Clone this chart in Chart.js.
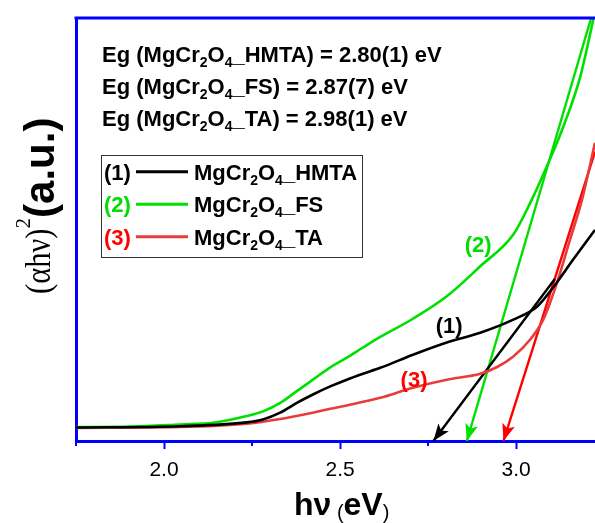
<!DOCTYPE html>
<html lang="en">
<head>
<meta charset="UTF-8">
<title>Tauc plot MgCr2O4</title>
<style>
  body { margin: 0; background: #ffffff; }
  #wrap { width: 595px; height: 523px; }
</style>
<script src="https://cdn.jsdelivr.net/npm/chart.js"></script>
</head>
<body>
<div id="wrap"><canvas id="tauc" width="595" height="523"></canvas></div>
<script>
// photon energy (eV) and (ahv)^2 in arbitrary units
const hmtaE = [1.75, 2.045, 2.235, 2.281, 2.330, 2.377, 2.423, 2.472, 2.519, 2.565, 2.614, 2.707, 2.803, 2.898, 2.992, 3.060, 3.105, 3.162, 3.224];
const hmtaA = [3.2, 3.5, 4.4, 5.1, 6.7, 9.0, 11.0, 12.9, 14.5, 15.9, 17.3, 20.4, 23.3, 25.6, 28.7, 31.8, 36.3, 42.9, 49.9];

const fsE = [1.75, 1.903, 2.045, 2.139, 2.235, 2.281, 2.330, 2.377, 2.423, 2.472, 2.519, 2.565, 2.614, 2.707, 2.803, 2.898, 2.992, 3.040, 3.087, 3.134, 3.182, 3.224];
const fsA = [3.3, 3.4, 3.9, 4.3, 5.9, 7.0, 9.0, 11.8, 14.5, 17.4, 19.7, 22.1, 24.6, 28.9, 34.2, 41.3, 48.8, 56.3, 64.9, 74.3, 86.1, 101.5];

const taE = [1.75, 2.045, 2.235, 2.330, 2.423, 2.472, 2.519, 2.614, 2.707, 2.803, 2.898, 2.946, 2.992, 3.040, 3.077, 3.116, 3.153, 3.187, 3.224];
const taA = [3.1, 3.3, 4.1, 5.2, 6.7, 7.6, 8.4, 10.2, 12.6, 14.5, 15.9, 17.5, 20.0, 24.0, 28.7, 37.4, 47.6, 57.0, 70.5];

// linear extrapolations (arrow tip first)
const hmtaFitE = [2.765, 3.110];
const hmtaFitA = [0, 38.3];
const fsFitE = [2.860, 3.213];
const fsFitA = [0, 100];
const taFitE = [2.964, 3.224];
const taFitA = [0, 68.4];

const xMajor = [2.0, 2.5, 3.0];
const xMinor = [1.75, 2.25, 2.75];

const bandGaps = ['2.80(1)', '2.87(7)', '2.98(1)'];
const samples = ['HMTA', 'FS', 'TA'];
const curveTags = ['(1)', '(2)', '(3)'];
const tagE = [2.810, 2.892, 2.710];
const tagA = [27.0, 46.2, 14.3];

const BLUE = '#0000ff';
const BLACK = '#000000';
const GREEN = '#00e000';
const RED = '#e83c3c';
const RED2 = '#ff0000';
const SANS = '"Liberation Sans", Arial, sans-serif';
const SERIF = '"Liberation Serif", "Times New Roman", serif';

const pts = (xs, ys) => xs.map((x, i) => ({ x: x, y: ys[i] }));

// draws text pieces one after another; sx squeezes a piece along the text direction
function drawRuns(ctx, runs, x, y) {
  for (const r of runs) {
    ctx.font = r.font;
    ctx.fillStyle = r.color || BLACK;
    const sx = r.sx || 1;
    ctx.save();
    ctx.translate(x, y + (r.dy || 0));
    ctx.scale(sx, 1);
    ctx.fillText(r.t, 0, 0);
    ctx.restore();
    x += ctx.measureText(r.t).width * sx;
  }
  return x;
}

function formulaRuns(name, size) {
  const big = 'bold ' + size + 'px ' + SANS;
  const small = 'bold ' + Math.round(size * 0.65) + 'px ' + SANS;
  return [
    { t: 'MgCr', font: big },
    { t: '2', font: small, dy: 5 },
    { t: 'O', font: big },
    { t: '4', font: small, dy: 5 },
    { t: '_' + name, font: big }
  ];
}

const lineColors = [BLACK, GREEN, RED];
const tagColors = [BLACK, '#00dd00', RED2];
const TXT = 22;

const decor = {
  id: 'decor',
  afterDatasetsDraw(chart) {
    const ctx = chart.ctx;
    const xs = chart.scales.x, ys = chart.scales.y;
    // arrow heads on the extrapolation lines
    [3, 4, 5].forEach((di, k) => {
      const m = chart.getDatasetMeta(di).data;
      const tip = m[0], from = m[1];
      const a = Math.atan2(tip.y - from.y, tip.x - from.x);
      ctx.save();
      ctx.translate(tip.x, tip.y);
      ctx.rotate(a);
      ctx.fillStyle = [BLACK, GREEN, RED2][k];
      ctx.beginPath();
      ctx.moveTo(0, 0);
      ctx.lineTo(-17, -6.5);
      ctx.lineTo(-13, 0);
      ctx.lineTo(-17, 6.5);
      ctx.closePath();
      ctx.fill();
      ctx.restore();
    });
    // curve tags
    ctx.save();
    ctx.textAlign = 'center';
    ctx.textBaseline = 'middle';
    ctx.font = 'bold ' + TXT + 'px ' + SANS;
    curveTags.forEach((t, i) => {
      ctx.fillStyle = tagColors[i];
      ctx.fillText(t, xs.getPixelForValue(tagE[i]), ys.getPixelForValue(tagA[i]));
    });
    ctx.restore();
  },
  afterDraw(chart) {
    const ctx = chart.ctx;
    const ca = chart.chartArea;
    const xs = chart.scales.x;
    ctx.save();
    // top frame line
    ctx.strokeStyle = BLUE;
    ctx.lineWidth = 3;
    ctx.beginPath();
    ctx.moveTo(ca.left - 1.5, ca.top);
    ctx.lineTo(ca.right, ca.top);
    ctx.stroke();
    // minor ticks
    ctx.lineWidth = 2;
    xMinor.forEach(v => {
      const px = Math.round(xs.getPixelForValue(v));
      ctx.beginPath();
      ctx.moveTo(px, ca.bottom);
      ctx.lineTo(px, ca.bottom + 5);
      ctx.stroke();
    });

    // band gap lines
    ctx.textAlign = 'left';
    ctx.textBaseline = 'alphabetic';
    samples.forEach((s, i) => {
      const runs = [{ t: 'Eg (', font: 'bold ' + TXT + 'px ' + SANS }]
        .concat(formulaRuns(s, TXT))
        .concat([{ t: ') = ' + bandGaps[i] + ' eV', font: 'bold ' + TXT + 'px ' + SANS }]);
      drawRuns(ctx, runs, 102, 62 + i * 32);
    });

    // legend box
    ctx.strokeStyle = '#333333';
    ctx.lineWidth = 1;
    ctx.strokeRect(101.5, 155.5, 261, 102);
    samples.forEach((s, i) => {
      const cy = 171.7 + i * 32.5;
      ctx.font = 'bold ' + TXT + 'px ' + SANS;
      ctx.fillStyle = tagColors[i];
      ctx.fillText(curveTags[i], 104, cy + 8);
      ctx.strokeStyle = lineColors[i];
      ctx.lineWidth = 3;
      ctx.beginPath();
      ctx.moveTo(136, cy);
      ctx.lineTo(188, cy);
      ctx.stroke();
      drawRuns(ctx, formulaRuns(s, TXT), 194, cy + 8);
    });

    // x title: hv (eV)
    drawRuns(ctx, [
      { t: 'h\u03bd', font: 'bold 32px ' + SANS },
      { t: ' (', font: '20px ' + SANS, dy: 4 },
      { t: 'eV', font: 'bold 32px ' + SANS },
      { t: ')', font: '20px ' + SANS, dy: 4 }
    ], 294, 515);

    // y title: (ahv)^2 (a.u.)
    ctx.translate(54, 294);
    ctx.rotate(-Math.PI / 2);
    drawRuns(ctx, [
      { t: '(\u03b1h\u03bd)', font: '36px ' + SERIF, dy: -4, sx: 0.85 },
      { t: '2', font: '21px ' + SERIF, dy: -24 },
      { t: '(a.u.)', font: 'bold 42px ' + SANS }
    ], 0, 0);
    ctx.restore();
  }
};

const ds = (label, xs, ys, color, width) => ({
  label: label,
  data: pts(xs, ys),
  borderColor: color,
  borderWidth: width,
  pointRadius: 0,
  fill: false,
  cubicInterpolationMode: 'monotone'
});

new Chart(document.getElementById('tauc'), {
  type: 'line',
  data: {
    datasets: [
      ds('MgCr2O4_HMTA', hmtaE, hmtaA, BLACK, 2.6),
      ds('MgCr2O4_FS', fsE, fsA, GREEN, 2.6),
      ds('MgCr2O4_TA', taE, taA, RED, 2.6),
      ds('fit HMTA', hmtaFitE, hmtaFitA, BLACK, 2.4),
      ds('fit FS', fsFitE, fsFitA, GREEN, 2.4),
      ds('fit TA', taFitE, taFitA, RED2, 2.4)
    ]
  },
  options: {
    responsive: false,
    animation: false,
    layout: { padding: { top: 18, right: 0, left: 0, bottom: 0 } },
    plugins: { legend: { display: false }, tooltip: { enabled: false } },
    scales: {
      x: {
        type: 'linear',
        min: 1.75,
        max: 3.224,
        afterBuildTicks: s => { s.ticks = xMajor.map(v => ({ value: v })); },
        afterFit: s => { s.height = 82; },
        border: { color: BLUE, width: 3 },
        grid: { drawOnChartArea: false, drawTicks: true, tickLength: 8, tickColor: BLUE, tickWidth: 2 },
        ticks: {
          color: BLACK,
          padding: 9,
          font: { family: SANS, size: 21 },
          callback: v => v.toFixed(1)
        }
      },
      y: {
        type: 'linear',
        min: 0,
        max: 100,
        afterFit: s => { s.width = 76; },
        border: { color: BLUE, width: 3 },
        grid: { display: false },
        ticks: { display: false }
      }
    }
  },
  plugins: [decor]
});
</script>
</body>
</html>
